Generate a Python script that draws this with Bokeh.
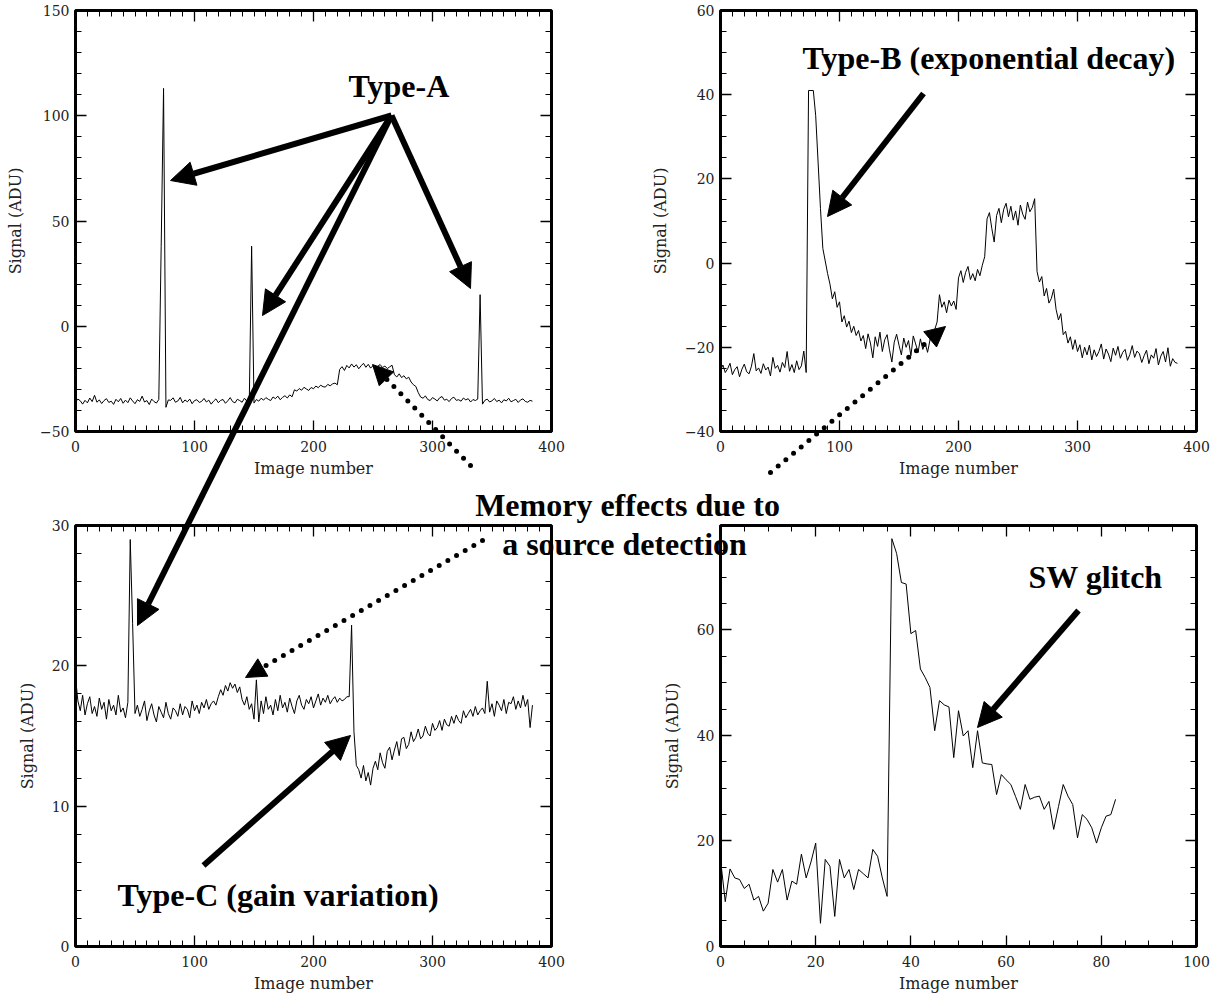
from bokeh.plotting import figure
from bokeh.models import Range1d, LinearAxis, SingleIntervalTicker, Arrow, NormalHead, Label, GridBox
from bokeh.embed import file_html
from bokeh.resources import INLINE

# ---------------- data ----------------
image_number = list(range(0, 385, 2))

type_a_signal = (
    [-36.0, -34.6, -35.4, -37.0, -35.2, -36.4, -34.1, -35.8, -32.8, -36.1, -35.0, -36.7,
     -35.3, -34.4, -36.2, -35.6, -37.1, -34.7, -35.9, -34.3, -36.6, -35.1, -36.3, -34.0,
     -35.5, -36.8, -34.9, -35.7, -33.2, -36.0, -35.3, -37.2, -34.6, -35.8, -36.5, -34.8]
    + [38.0, 113.0, -38.5]
    + [-35.0, -35.2, -34.0, -36.1, -35.5, -33.8, -36.4, -35.0, -35.9, -34.6, -36.8, -35.3,
       -34.9, -36.2, -35.7, -34.3, -36.0, -35.1, -37.0, -35.6, -34.5, -36.3, -35.2, -34.8,
       -36.6, -35.4, -33.9, -35.8, -36.4, -34.7, -35.3, -36.1, -34.2, -35.6, -36.9]
    + [38.0, -36.5]
    + [-34.8, -35.6, -34.2, -35.1, -33.9, -34.7, -35.3, -33.6, -34.4, -33.2, -34.9, -33.8,
       -33.0, -34.1, -32.6, -33.5]
    + [-30.2, -30.8, -29.6, -30.4, -29.0, -29.8, -30.5, -29.1, -29.7, -28.4, -29.2, -28.0,
       -28.7, -28.9, -27.6, -28.3, -27.4, -27.0, -27.8]
    + [-20.5, -19.2, -21.0, -18.6, -19.8, -17.9, -19.4, -18.3, -20.2, -18.8, -17.6, -19.5,
       -18.1, -19.9, -18.7, -20.4, -19.0, -18.2, -19.6, -18.9, -20.1, -19.3, -18.5]
    + [-23.0, -24.1, -22.6, -24.4, -23.5, -25.0, -24.2, -26.5, -27.8, -28.6]
    + [-31.5, -33.6, -34.2, -33.1, -34.8, -35.3, -33.9, -34.6, -35.5, -34.0, -33.4, -35.1,
       -34.7, -35.8, -34.3, -33.7, -35.2, -34.9, -35.6, -34.1, -35.0, -34.4, -36.0, -34.8,
       -35.3, -34.6]
    + [15.0, -37.0]
    + [-35.2, -34.6, -36.0, -35.4, -34.3, -35.8, -35.1, -36.4, -34.9, -35.5, -34.2, -35.9,
       -35.3, -34.7, -36.2, -35.0, -34.5, -35.7, -36.1, -35.2, -35.6]
)

type_b_signal = (
    [-25.5, -24.2, -26.0, -25.1, -23.8, -26.5, -25.3, -24.6, -27.0, -25.2, -24.0, -25.8,
     -26.3, -24.5, -21.5, -25.6, -24.9, -26.2, -23.9, -25.4, -24.7, -26.8, -22.4, -25.0,
     -24.3, -25.9, -23.6, -24.8, -21.0, -25.7, -24.1, -26.0, -23.2, -25.3, -24.4, -20.9,
     -26.0]
    + [41.0, 41.0, 41.0]
    + [35.0, 24.0, 13.0, 3.5]
    + [0.5, -2.5, -5.0, -8.5, -6.8, -10.5, -9.2, -14.0, -12.5, -15.2, -13.8, -16.5, -15.0,
       -17.2]
    + [-16.0, -18.5, -17.2, -20.3, -16.8, -19.0, -22.5, -17.5, -19.8, -16.4, -21.0, -18.2,
       -17.0, -20.6, -23.5, -18.8, -16.9, -19.5, -21.8, -17.8, -20.0, -18.4, -22.0, -17.3,
       -19.2, -21.2, -18.0]
    + [-20.5, -19.0, -21.2, -18.3, -17.0, -15.8, -14.0]
    + [-7.5, -10.5, -9.2, -11.8, -8.8, -10.2, -9.0, -11.0]
    + [-3.5, -1.8, -4.6, -2.2, -0.8, -3.9, -2.5, -4.2, -1.5, -3.0, -0.5, 1.5]
    + [10.5, 12.0, 8.2, 5.0, 11.3, 13.0, 9.6, 12.8, 14.2, 11.0, 13.5, 10.2, 12.4, 9.0,
       13.8, 11.6, 10.4, 14.5, 12.2, 13.2, 15.3]
    + [-2.0, -4.5, -3.2, -7.8, -6.0, -9.5, -8.4, -6.2, -11.0, -13.5, -12.0, -17.0, -16.2,
       -19.0, -17.5, -20.5, -18.2, -21.0, -19.4]
    + [-22.5, -20.0, -21.8, -19.5, -23.0, -20.6, -22.2, -21.0, -19.2, -22.8, -20.4, -21.6,
       -23.4, -20.2, -21.9, -19.8, -22.6, -21.2, -20.5, -23.1, -21.7, -19.6, -22.4, -20.9,
       -21.5, -23.6, -22.0, -20.7, -23.9, -21.8, -22.6, -20.3, -24.2, -22.1, -21.0, -23.5,
       -20.1, -24.5, -22.7, -23.6, -23.8]
)

type_c_signal = (
    [19.2, 17.5, 16.8, 17.9, 16.5, 17.3, 17.8, 16.6, 17.1, 16.4, 17.7, 16.9, 17.4, 16.2,
     17.6, 16.8, 17.2, 16.5, 17.9, 16.7, 17.0, 16.3, 17.4]
    + [29.0, 23.0, 16.6]
    + [17.2, 16.4, 16.9, 17.5, 16.1, 16.8, 17.3, 16.5, 16.0, 17.1, 16.7, 16.3, 17.4, 16.6,
       16.2, 17.0, 16.8, 16.4, 17.3, 16.5, 17.1, 16.9, 16.3, 17.5, 16.8, 17.2, 16.6, 17.4,
       17.0, 17.6, 16.9, 17.3, 17.5, 17.2]
    + [17.8, 18.3, 17.9, 18.6, 18.2, 18.8, 18.4, 18.7, 18.1, 18.5, 17.6, 17.2, 17.8, 16.9]
    + [17.3, 16.2, 19.0, 16.0, 17.5, 16.6, 17.8, 16.9, 17.2, 16.5, 17.6, 16.8, 17.9, 17.0,
       17.4, 16.7, 17.7, 17.1, 16.6, 17.5, 17.9, 17.2, 16.9, 17.6, 17.3, 17.8, 17.0, 17.5,
       18.0, 17.2, 17.7, 17.4, 17.9, 17.3, 17.6, 17.8, 17.4, 17.7, 17.5, 17.6, 17.8]
    + [17.8, 22.9, 15.3, 12.9]
    + [12.6, 12.0, 12.9, 11.8, 12.4, 11.5, 12.7]
    + [13.2, 12.6, 13.8, 13.1, 12.7, 13.9, 14.2, 13.3, 14.0, 14.6, 13.6, 14.8, 14.9, 14.1,
       14.4, 15.3, 14.6, 14.9, 15.5, 14.8, 15.0, 15.7, 15.2, 15.0, 15.9, 15.4, 15.6, 16.1,
       15.4, 16.2, 15.8, 15.7, 16.4, 15.9, 16.5, 16.1, 15.9, 16.8, 16.3, 16.6, 16.9, 16.4,
       17.1, 16.5, 16.8, 17.0, 16.6, 18.9, 16.7, 17.3, 16.4, 17.5, 17.2, 16.8, 17.6, 16.6,
       17.4, 17.3, 17.8, 16.9, 17.5, 17.0, 17.9, 17.1, 17.6, 15.6, 17.2]
)

sw_image_number = list(range(0, 84))
sw_signal = [
    16.5, 8.5, 14.7, 13.0, 12.7, 11.0, 11.8, 8.8, 9.5, 6.7, 8.2, 14.6, 12.2, 14.6, 8.8,
    12.4, 11.8, 17.5, 13.0, 16.0, 19.6, 4.4, 16.5, 15.2, 5.7, 16.5, 13.0, 14.6, 10.8, 14.6,
    13.8, 13.0, 18.4, 17.1, 13.0, 9.5,
    77.3, 74.5, 69.0, 68.7, 59.3, 59.9, 52.6, 51.0, 49.1, 40.9, 46.6, 45.8, 45.4, 35.8,
    44.7, 39.9, 40.9, 33.9, 40.9, 34.8, 34.6, 34.5, 28.8, 32.6, 31.6, 30.7, 28.4, 26.0,
    30.7, 27.9, 28.3, 28.5, 26.0, 27.5, 22.2, 26.5, 30.7, 28.5, 26.9, 20.6, 25.0, 24.1,
    22.5, 19.6, 22.5, 24.7, 25.0, 27.9,
]

X_LABEL = "Image number"
Y_LABEL = "Signal (ADU)"

PAGE_W, PAGE_H = 1219, 996

# ---------------- layout of the four panels (page pixels) ----------------
PANELS = [
    dict(cell=(0, 0), canvas=(0, 0, 630, 480), frame=(75, 551, 10, 432), xr=(0, 400), yr=(-50, 150),
         xt=(100, 10), yt=(50, 5), x=image_number, y=type_a_signal),
    dict(cell=(0, 1), canvas=(630, 0, 589, 480), frame=(720, 1196, 10, 432), xr=(0, 400), yr=(-40, 60),
         xt=(100, 10), yt=(20, 4), x=image_number, y=type_b_signal),
    dict(cell=(1, 0), canvas=(0, 480, 630, 516), frame=(75, 551, 525, 946), xr=(0, 400), yr=(0, 30),
         xt=(100, 10), yt=(10, 5), x=image_number, y=type_c_signal),
    dict(cell=(1, 1), canvas=(630, 480, 589, 516), frame=(720, 1196, 525, 946), xr=(0, 100), yr=(0, 79.8),
         xt=(20, 4), yt=(20, 4), x=sw_image_number, y=sw_signal),
]

# overlay annotations in page pixels
SOLID_ARROWS = [
    (391, 115, 170, 180),
    (391, 115, 262, 315),
    (391, 115, 137, 625),
    (391, 115, 470, 288),
    (923, 93, 827, 216),
    (203, 865, 350, 735),
    (1078, 610, 977, 727),
]
DOTTED_ARROWS = [
    (470, 465, 372, 364),
    (770, 472, 945, 326),
    (482, 540, 245, 677),
]
LABELS = [
    ("Type-A", 348, 85, "left"),
    ("Type-B (exponential decay)", 802, 57, "left"),
    ("Memory effects due to", 627, 504, "center"),
    ("a source detection", 624, 543, "center"),
    ("SW glitch", 1028, 576, "left"),
    ("Type-C (gain variation)", 117, 894, "left"),
]

SERIF = "DejaVu Serif"
BOLD = "Liberation Serif"


def style_ticks(ax):
    ax.axis_line_color = None
    ax.major_tick_in = 11
    ax.major_tick_out = 0
    ax.minor_tick_in = 6
    ax.minor_tick_out = 0
    ax.major_tick_line_color = "black"
    ax.major_tick_line_width = 1.3
    ax.minor_tick_line_color = "black"
    ax.minor_tick_line_width = 1


def hide_labels(ax):
    ax.major_label_text_font_size = "1px"
    ax.major_label_text_color = None
    ax.major_label_standoff = 0
    ax.axis_label = None


def build(panel):
    cx, cy, W, H = panel["canvas"]
    L, R, T, B = panel["frame"]
    (xa, xb), (ya, yb) = panel["xr"], panel["yr"]
    p = figure(width=W, height=H, x_range=Range1d(xa, xb), y_range=Range1d(ya, yb),
               output_backend="svg", toolbar_location=None,
               min_border_left=L - cx, min_border_right=cx + W - R,
               min_border_top=T - cy, min_border_bottom=cy + H - B,
               x_axis_label=X_LABEL, y_axis_label=Y_LABEL)
    p.grid.visible = False
    p.outline_line_color = "black"
    p.outline_line_width = 3
    p.background_fill_color = "white"
    p.border_fill_color = "white"

    xi, xm = panel["xt"]
    yi, ym = panel["yt"]
    bx = p.xaxis[0]
    ly = p.yaxis[0]
    bx.ticker = SingleIntervalTicker(interval=xi, num_minor_ticks=xm)
    ly.ticker = SingleIntervalTicker(interval=yi, num_minor_ticks=ym)
    for ax in (bx, ly):
        style_ticks(ax)
        ax.major_label_text_font = SERIF
        ax.major_label_text_font_size = "14px"
        ax.major_label_text_color = "#222222"
        ax.axis_label_text_font = SERIF
        ax.axis_label_text_font_size = "16px"
        ax.axis_label_text_font_style = "normal"
        ax.axis_label_text_color = "#222222"
    bx.major_label_standoff = 9
    bx.axis_label_standoff = 4
    ly.major_label_standoff = 6
    ly.axis_label_standoff = 12

    top = LinearAxis(ticker=SingleIntervalTicker(interval=xi, num_minor_ticks=xm))
    style_ticks(top)
    hide_labels(top)
    p.add_layout(top, "above")
    right = LinearAxis(ticker=SingleIntervalTicker(interval=yi, num_minor_ticks=ym))
    style_ticks(right)
    hide_labels(right)
    p.add_layout(right, "right")

    p.line(panel["x"], panel["y"], line_color="black", line_width=1)
    return p


def build_overlay():
    ov = figure(width=PAGE_W, height=PAGE_H,
                output_backend="svg", toolbar_location=None, x_axis_type=None, y_axis_type=None,
                min_border=0, min_border_left=0, min_border_right=0, min_border_top=0, min_border_bottom=0)
    # page-pixel coordinates of the overlay's frame
    try:
        ov.frame_align = False
        fx0, fx1, fy0, fy1 = 0, PAGE_W, 0, PAGE_H
    except Exception:
        fx0, fx1, fy0, fy1 = 75, 1196, 10, 946
    ov.x_range = Range1d(fx0, fx1)
    ov.y_range = Range1d(fy1, fy0)
    ov.background_fill_color = None
    ov.border_fill_color = None
    ov.outline_line_color = None
    for (sx, sy, ex, ey) in SOLID_ARROWS:
        ov.add_layout(Arrow(end=NormalHead(size=24, fill_color="black", line_color="black", line_width=1),
                            x_start=sx, y_start=sy, x_end=ex, y_end=ey,
                            line_color="black", line_width=6))
    for (sx, sy, ex, ey) in DOTTED_ARROWS:
        ov.add_layout(Arrow(end=NormalHead(size=20, fill_color="black", line_color="black", line_width=1),
                            x_start=sx, y_start=sy, x_end=ex, y_end=ey,
                            line_color="black", line_width=5, line_dash="0 10", line_cap="round"))
    for (txt, gx, gy, align) in LABELS:
        ov.add_layout(Label(x=gx, y=gy, text=txt, text_font=BOLD, text_font_style="bold",
                            text_font_size="32px", text_align=align, text_baseline="alphabetic",
                            text_color="black"))
    return ov


children = []
for pn in PANELS:
    r, c = pn["cell"]
    children.append((build(pn), r, c))
children.append((build_overlay(), 0, 0, 2, 2))

layout = GridBox(children=children, spacing=0)
open("out.html", "w").write(file_html(layout, INLINE))
